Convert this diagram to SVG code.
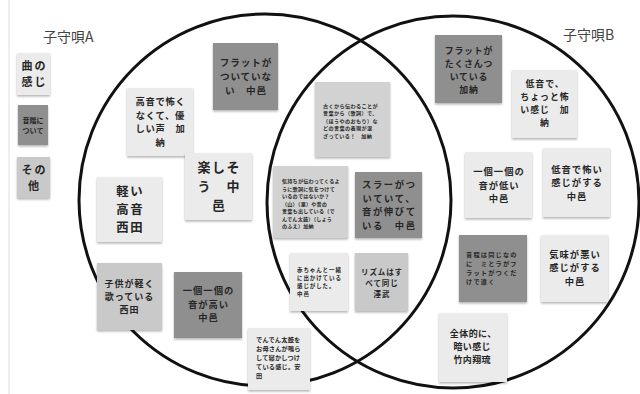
<svg xmlns="http://www.w3.org/2000/svg" width="640" height="394" viewBox="0 0 640 394">
<defs>
<filter id="sh" x="-10%" y="-10%" width="120%" height="125%"><feDropShadow dx="0" dy="1.5" stdDeviation="1" flood-color="#000" flood-opacity="0.3"/></filter>
<style>
.n{filter:url(#sh)}
.lt{fill:#ebebeb}
.md{fill:#c9c9c9}
.ml{fill:#d2d2d2}
.dk{fill:#8f8f8f}
text{font-family:"Noto Sans CJK JP","Noto Sans CJK SC",sans-serif;font-weight:700;fill:#262626}
.c{text-anchor:middle}
.lab{font-weight:400;fill:#444;font-size:14px}
.circ{fill:none;stroke:#111;stroke-width:3}
</style>
</defs>
<rect width="640" height="394" fill="#fff"/>
<line x1="9" y1="0" x2="9" y2="394" stroke="#dedede" stroke-width="1"/>
<g id="sets">
<circle class="circ" cx="265" cy="200" r="186"/>
<circle class="circ" cx="453" cy="202" r="186"/>
</g>
<g id="connectors"></g>
<text class="lab" x="43" y="42">子守唄A</text>
<text class="lab" x="563" y="40">子守唄B</text>
<g id="legend-feel"><rect class="n lt" x="17" y="53" width="33" height="42"/><text class="c" font-size="11" letter-spacing="2"><tspan x="34.5" y="70.4">曲の</tspan><tspan x="34.5" y="86.4">感じ</tspan></text></g>
<g id="legend-scale"><rect class="n dk" x="18" y="105" width="30" height="40"/><text class="c" font-size="7"><tspan x="33" y="122.5">音階に</tspan><tspan x="33" y="132.7">ついて</tspan></text></g>
<g id="legend-other"><rect class="n md" x="17" y="157" width="33" height="41"/><text class="c" font-size="11" letter-spacing="2"><tspan x="34.5" y="173.5">その</tspan><tspan x="34.5" y="189.5">他</tspan></text></g>
<g id="n1"><rect class="n dk" x="213" y="43" width="65" height="67"/><text class="c" font-size="9.6" letter-spacing="0.9"><tspan x="246" y="66.4">フラットが</tspan><tspan x="246" y="80.4">ついていな</tspan><tspan x="246" y="94.4">い　中邑</tspan></text></g>
<g id="n2"><rect class="n lt" x="127" y="88" width="66" height="68"/><text class="c" font-size="9.3" letter-spacing="0.7"><tspan x="160.4" y="105.3">高音で怖く</tspan><tspan x="160.4" y="118.8">なくて、優</tspan><tspan x="160.4" y="132.3">しい声　加</tspan><tspan x="160.4" y="145.8">納</tspan></text></g>
<g id="n3"><rect class="n lt" x="185" y="153" width="67" height="67"/><text class="c" font-size="13" letter-spacing="1.4"><tspan x="219.2" y="171.5">楽しそ</tspan><tspan x="219.2" y="190.5">う　中</tspan><tspan x="219.2" y="209.5">邑</tspan></text></g>
<g id="n4"><rect class="n lt" x="97" y="177" width="65" height="65"/><text class="c" font-size="12.4" letter-spacing="1.6"><tspan x="130.3" y="196.3">軽い</tspan><tspan x="130.3" y="214.3">高音</tspan><tspan x="130.3" y="232.3">西田</tspan></text></g>
<g id="n5"><rect class="n md" x="97" y="263" width="65" height="67"/><text class="c" font-size="9" letter-spacing="1"><tspan x="129.5" y="287.2">子供が軽く</tspan><tspan x="129.5" y="300.2">歌っている</tspan><tspan x="129.5" y="313.2">西田</tspan></text></g>
<g id="n6"><rect class="n dk" x="174" y="272" width="68" height="66"/><text class="c" font-size="9.3" letter-spacing="1"><tspan x="208.5" y="294.3">一個一個の</tspan><tspan x="208.5" y="307.8">音が高い</tspan><tspan x="208.5" y="321.3">中邑</tspan></text></g>
<g id="n7"><rect class="n lt" x="248" y="328" width="62" height="62"/><text font-size="6.2" letter-spacing="0.2"><tspan x="256" y="341.5">でんでん太鼓を</tspan><tspan x="256" y="350.5">お母さんが鳴ら</tspan><tspan x="256" y="359.5">して寝かしつけ</tspan><tspan x="256" y="368.5">ている感じ。安</tspan><tspan x="256" y="377.5">田</tspan></text></g>
<g id="n8"><rect class="n lt" x="290" y="253" width="58" height="58"/><text font-size="5.5" letter-spacing="0.9"><tspan x="297" y="271.5">赤ちゃんと一緒</tspan><tspan x="297" y="279.5">に出かけている</tspan><tspan x="297" y="287.5">感じがした。</tspan><tspan x="297" y="295.5">中邑</tspan></text></g>
<g id="n9"><rect class="n md" x="355" y="253" width="53" height="58"/><text class="c" font-size="7.5" letter-spacing="0.9"><tspan x="382" y="275">リズムはす</tspan><tspan x="382" y="286">べて同じ</tspan><tspan x="382" y="297">澤武</tspan></text></g>
<g id="n10"><rect class="n ml" x="315" y="82" width="75" height="75"/><text font-size="5.1" letter-spacing="0.4"><tspan x="323" y="107.5">古くから伝わることが</tspan><tspan x="323" y="115">言葉から（歌詞）で、</tspan><tspan x="323" y="122.5">（ほうやのおもり）な</tspan><tspan x="323" y="130">どの言葉の表現が混</tspan><tspan x="323" y="137.5">ざっている！　加納</tspan></text></g>
<g id="n11"><rect class="n ml" x="273" y="166" width="75" height="72"/><text font-size="5.1" letter-spacing="0.2"><tspan x="282" y="183">気持ちが伝わってくるよ</tspan><tspan x="282" y="190.5">うに歌詞に気をつけて</tspan><tspan x="282" y="198">いるのではないか？</tspan><tspan x="282" y="205.5">（山）（里）や昔の</tspan><tspan x="282" y="213">言葉も出している（で</tspan><tspan x="282" y="220.5">んでん太鼓）（しょう</tspan><tspan x="282" y="228">のふえ）加納</tspan></text></g>
<g id="n12"><rect class="n dk" x="355" y="172" width="67" height="66"/><text class="c" font-size="9.3" letter-spacing="1.6"><tspan x="389.3" y="188.3">スラーがつ</tspan><tspan x="389.3" y="201.8">いていて、</tspan><tspan x="389.3" y="215.3">音が伸びて</tspan><tspan x="389.3" y="228.8">いる　中邑</tspan></text></g>
<g id="n13"><rect class="n dk" x="435" y="35" width="67" height="68"/><text class="c" font-size="8.9" letter-spacing="0.8"><tspan x="468.9" y="53.6">フラットが</tspan><tspan x="468.9" y="66.6">たくさんつ</tspan><tspan x="468.9" y="79.6">いている</tspan><tspan x="468.9" y="92.6">加納</tspan></text></g>
<g id="n14"><rect class="n lt" x="512" y="70" width="65" height="68"/><text class="c" font-size="8.9" letter-spacing="1"><tspan x="545" y="86.6">低音で、</tspan><tspan x="545" y="99.6">ちょっと怖</tspan><tspan x="545" y="112.6">い感じ　加</tspan><tspan x="545" y="125.6">納</tspan></text></g>
<g id="n15"><rect class="n lt" x="465" y="152" width="67" height="66"/><text class="c" font-size="9.3" letter-spacing="1"><tspan x="499" y="175.3">一個一個の</tspan><tspan x="499" y="188.8">音が低い</tspan><tspan x="499" y="202.3">中邑</tspan></text></g>
<g id="n16"><rect class="n lt" x="543" y="148" width="67" height="69"/><text class="c" font-size="9.3" letter-spacing="1"><tspan x="577" y="172.8">低音で怖い</tspan><tspan x="577" y="186.3">感じがする</tspan><tspan x="577" y="199.8">中邑</tspan></text></g>
<g id="n17"><rect class="n dk" x="459" y="235" width="68" height="67"/><text font-size="6.2" letter-spacing="1.2"><tspan x="466" y="257.2">音程は同じなの</tspan><tspan x="466" y="266.2">に　ミとラがフ</tspan><tspan x="466" y="275.2">ラットがつくだ</tspan><tspan x="466" y="284.2">けで違く</tspan></text></g>
<g id="n18"><rect class="n lt" x="541" y="235" width="67" height="67"/><text class="c" font-size="9.3" letter-spacing="1"><tspan x="575" y="257.8">気味が悪い</tspan><tspan x="575" y="271.3">感じがする</tspan><tspan x="575" y="284.8">中邑</tspan></text></g>
<g id="n19"><rect class="n lt" x="439" y="313" width="68" height="69"/><text class="c" font-size="9" letter-spacing="0.4"><tspan x="473.2" y="337.2">全体的に、</tspan><tspan x="472.2" y="350.3">暗い感じ</tspan><tspan x="472.2" y="363.4">竹内翔琉</tspan></text></g>
</svg>
